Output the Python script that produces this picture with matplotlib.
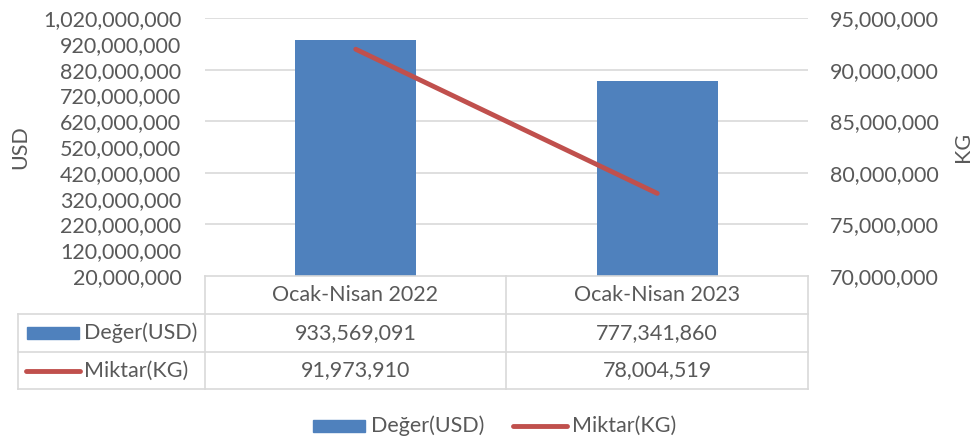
import matplotlib
matplotlib.use('Agg')
import numpy as np
import matplotlib.pyplot as plt
from matplotlib.lines import Line2D
from matplotlib.patches import Rectangle
from matplotlib.ticker import FuncFormatter

categories = ['Ocak-Nisan 2022', 'Ocak-Nisan 2023']
deger_usd = [933569091, 777341860]
miktar_kg = [91973910, 78004519]
series_names = ['Değer(USD)', 'Miktar(KG)']
usd_ticks = np.arange(20000000, 1020000001, 100000000)
kg_ticks = np.arange(70000000, 95000001, 5000000)

BLUE = '#4F81BD'
RED = '#C0504D'
TXT = '#595959'
GRID = '#D9D9D9'
FS = 15.5

plt.rcParams['font.family'] = ['Lato', 'DejaVu Sans']

W, H = 974, 440
fig = plt.figure(figsize=(W / 100, H / 100), dpi=100)


def fx(px):
    return px / W


def fy(py):
    return 1 - py / H


L, R, T, B = 205, 808, 18, 276
ax = fig.add_axes([fx(L), fy(B), fx(R - L), (B - T) / H])
ax2 = ax.twinx()

x = list(range(len(categories)))
ax.bar(x, deger_usd, width=0.4, color=BLUE, zorder=3)
ax.set_xlim(-0.5, len(categories) - 0.5)
ax.set_ylim(usd_ticks[0], usd_ticks[-1])
ax.set_yticks(usd_ticks)

ax2.plot(x, miktar_kg, color=RED, lw=3.5, solid_capstyle='round', zorder=4)
ax2.set_ylim(kg_ticks[0], kg_ticks[-1])
ax2.set_yticks(kg_ticks)
ax2.set_zorder(1)
ax.patch.set_visible(False)
ax2.patch.set_visible(False)

# gridlines at the KG ticks, drawn behind the bars
for k in kg_ticks[1:]:
    ax.axhline(usd_ticks[0] + (k - kg_ticks[0]) / (kg_ticks[-1] - kg_ticks[0])
               * (usd_ticks[-1] - usd_ticks[0]), color=GRID, lw=1.2, zorder=0)

fmt = FuncFormatter(lambda v, p: f'{v:,.0f}')
for a in (ax, ax2):
    a.yaxis.set_major_formatter(fmt)
    a.tick_params(length=0, labelsize=FS, labelcolor=TXT)
    a.set_xticks([])
    for s in a.spines.values():
        s.set_visible(False)
ax.tick_params(axis='y', pad=17)
ax2.tick_params(axis='y', pad=16)
fig.text(fx(20), fy(147), 'USD', rotation=90, ha='center', va='center', fontsize=FS, color=TXT)
fig.text(fx(963), fy(147), 'KG', rotation=90, ha='center', va='center', fontsize=FS, color=TXT)

# data table
rows_y = [276, 314, 352, 389]
col_x = [18, 205, 506, 808]


def hline(x0, x1, y):
    fig.add_artist(Line2D([fx(x0), fx(x1)], [fy(y), fy(y)], color=GRID, lw=1.2))


def vline(x, y0, y1):
    fig.add_artist(Line2D([fx(x), fx(x)], [fy(y0), fy(y1)], color=GRID, lw=1.2))


hline(col_x[1], col_x[3], rows_y[0])
for y in rows_y[1:]:
    hline(col_x[0], col_x[3], y)
vline(col_x[0], rows_y[1], rows_y[3])
for cx in col_x[1:]:
    vline(cx, rows_y[0], rows_y[3])

for i, c in enumerate(categories):
    cx = (col_x[i + 1] + col_x[i + 2]) / 2
    fig.text(fx(cx), fy((rows_y[0] + rows_y[1]) / 2), c, ha='center', va='center',
             fontsize=FS, color=TXT)
    fig.text(fx(cx), fy((rows_y[1] + rows_y[2]) / 2), f'{deger_usd[i]:,}', ha='center',
             va='center', fontsize=FS, color=TXT)
    fig.text(fx(cx), fy((rows_y[2] + rows_y[3]) / 2), f'{miktar_kg[i]:,}', ha='center',
             va='center', fontsize=FS, color=TXT)

y1 = (rows_y[1] + rows_y[2]) / 2
y2 = (rows_y[2] + rows_y[3]) / 2
fig.add_artist(Rectangle((fx(27), fy(y1 + 6)), fx(52), 12 / H, color=BLUE))
fig.text(fx(84), fy(y1), series_names[0], ha='left', va='center', fontsize=FS, color=TXT)
fig.add_artist(Line2D([fx(26), fx(80)], [fy(y2), fy(y2)], color=RED, lw=3.5,
                      solid_capstyle='round'))
fig.text(fx(84), fy(y2), series_names[1], ha='left', va='center', fontsize=FS, color=TXT)

# legend
ly = 426
fig.add_artist(Rectangle((fx(313), fy(ly + 6)), fx(52), 12 / H, color=BLUE))
fig.text(fx(371), fy(ly), series_names[0], ha='left', va='center', fontsize=FS, color=TXT)
fig.add_artist(Line2D([fx(513), fx(567)], [fy(ly), fy(ly)], color=RED, lw=3.5,
                      solid_capstyle='round'))
fig.text(fx(572), fy(ly), series_names[1], ha='left', va='center', fontsize=FS, color=TXT)

fig.savefig('out.png', dpi=100)
